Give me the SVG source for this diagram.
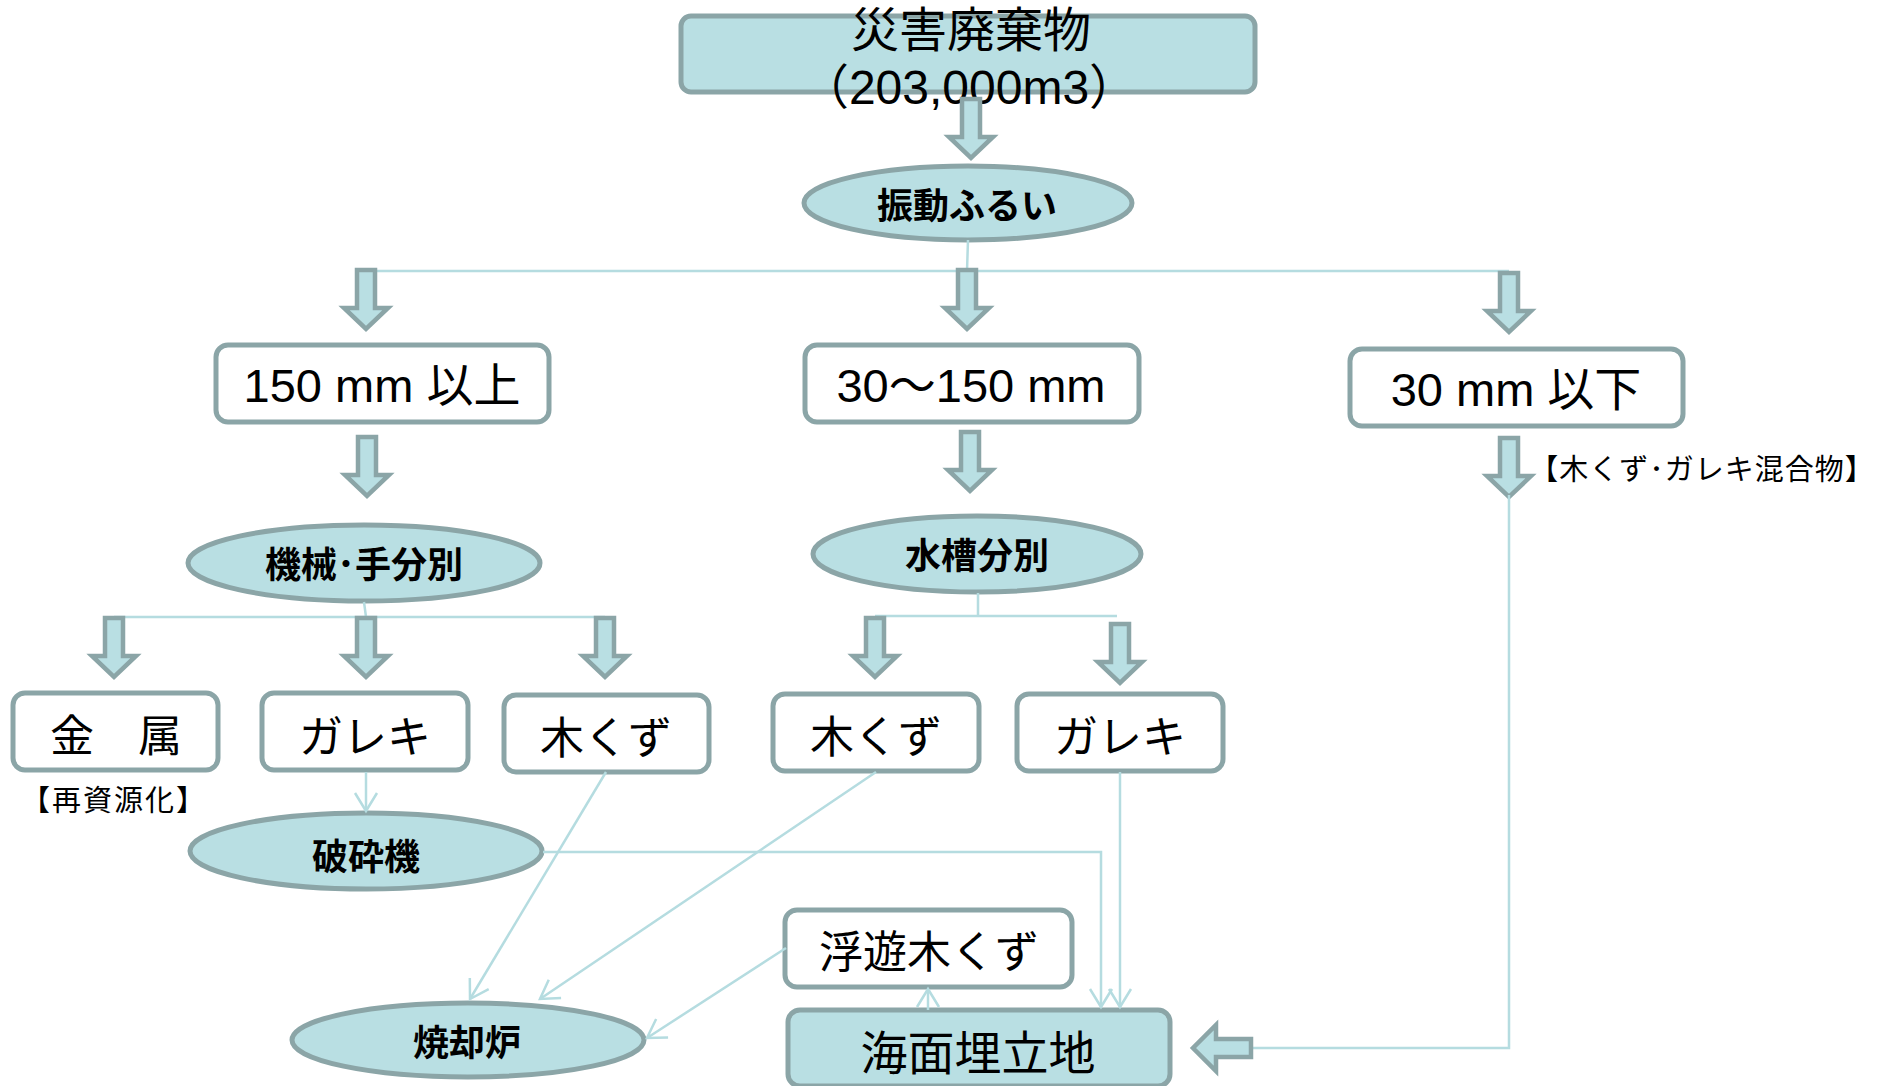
<svg xmlns="http://www.w3.org/2000/svg" xmlns:xlink="http://www.w3.org/1999/xlink" width="1880" height="1086" viewBox="0 0 1880 1086">
<style>
text{font-family:'Liberation Sans','Noto Sans CJK JP',sans-serif;fill:#000;text-anchor:middle;dominant-baseline:central}
.box{fill:#fff;stroke:#8ba5a7;stroke-width:5}
.tbox{fill:#b9dfe3;stroke:#8ba5a7;stroke-width:5}
.ell{fill:#b9dfe3;stroke:#8ba5a7;stroke-width:5}
.barr{fill:#b9dfe3;stroke:#8ba5a7;stroke-width:4.5;stroke-linejoin:miter}
.ln{fill:none;stroke:#b5dce0;stroke-width:2.5}
.top{font-size:48px}
.big{font-size:47px}
.mid{font-size:44px}
.lab{font-size:36px;font-weight:bold}
.note{font-size:29px;letter-spacing:2px}
.note2{font-size:29px;letter-spacing:1px}
</style>
<defs>
<path id="darr" class="barr" d="M-9,0 H9 V38 H22 L0,59 L-22,38 H-9 Z"/>
<marker id="oa" markerWidth="22" markerHeight="24" refX="18" refY="11" orient="auto" markerUnits="userSpaceOnUse" overflow="visible">
<path d="M0,0 L18,11 L0,22" fill="none" stroke="#b5dce0" stroke-width="2.5"/>
</marker>
</defs>

<g id="node-source">
<rect class="tbox" x="681" y="16" width="574" height="76" rx="10"/>
<text class="top" x="971" y="30">災害廃棄物</text>
<text class="top" x="969" y="87">（203,000m3）</text>
</g>
<g id="node-screen">
<ellipse class="ell" cx="968" cy="203" rx="164" ry="37"/>
<text class="lab" x="967" y="206">振動ふるい</text>
</g>
<g id="node-over150">
<rect class="box" x="216" y="345" width="333" height="77" rx="12"/>
<text class="big" x="382" y="385">150 mm 以上</text>
</g>
<g id="node-30to150">
<rect class="box" x="805" y="345" width="334" height="77" rx="12"/>
<text class="big" x="971" y="385">30～150 mm</text>
</g>
<g id="node-under30">
<rect class="box" x="1350" y="349" width="333" height="77" rx="12"/>
<text class="big" x="1516" y="389">30 mm 以下</text>
</g>
<g id="node-mixnote">
<text class="note2" x="1702" y="470">【木くず･ガレキ混合物】</text>
</g>
<g id="node-handsort">
<ellipse class="ell" cx="364" cy="563" rx="176" ry="38"/>
<text class="lab" x="364" y="565">機械･手分別</text>
</g>
<g id="node-watersort">
<ellipse class="ell" cx="977" cy="554" rx="164" ry="38"/>
<text class="lab" x="977" y="556">水槽分別</text>
</g>
<g id="node-metal">
<rect class="box" x="13" y="693" width="205" height="77" rx="12"/>
<text class="mid" x="116" y="736">金　属</text>
<text class="note" x="114" y="801">【再資源化】</text>
</g>
<g id="node-rubble1">
<rect class="box" x="262" y="693" width="206" height="77" rx="12"/>
<text class="mid" x="365" y="737">ガレキ</text>
</g>
<g id="node-wood1">
<rect class="box" x="504" y="695" width="205" height="77" rx="12"/>
<text class="mid" x="606" y="738">木くず</text>
</g>
<g id="node-wood2">
<rect class="box" x="773" y="694" width="206" height="77" rx="12"/>
<text class="mid" x="876" y="737">木くず</text>
</g>
<g id="node-rubble2">
<rect class="box" x="1017" y="694" width="206" height="77" rx="12"/>
<text class="mid" x="1120" y="737">ガレキ</text>
</g>
<g id="node-crusher">
<ellipse class="ell" cx="366" cy="851" rx="176" ry="38"/>
<text class="lab" x="366" y="857">破砕機</text>
</g>
<g id="node-floatwood">
<rect class="box" x="785" y="910" width="287" height="77" rx="12"/>
<text class="mid" x="929" y="952">浮遊木くず</text>
</g>
<g id="node-incinerator">
<ellipse class="ell" cx="468" cy="1040" rx="176" ry="37"/>
<text class="lab" x="467" y="1043">焼却炉</text>
</g>
<g id="node-landfill">
<rect class="tbox" x="788" y="1010" width="382" height="76" rx="12"/>
<text class="big" x="978" y="1053">海面埋立地</text>
</g>

<g id="connectors">
<path class="ln" d="M968,240 L967,271 M366,271 H1509"/>
<path class="ln" d="M364,602 L366,617 M114,617 H605"/>
<path class="ln" d="M978,593 V616 M875,616 H1117"/>
<use xlink:href="#darr" href="#darr" x="971" y="99"/>
<use xlink:href="#darr" href="#darr" x="366" y="270"/>
<use xlink:href="#darr" href="#darr" x="967" y="270"/>
<use xlink:href="#darr" href="#darr" x="1509" y="273"/>
<use xlink:href="#darr" href="#darr" x="367" y="437"/>
<use xlink:href="#darr" href="#darr" x="970" y="432"/>
<use xlink:href="#darr" href="#darr" x="1509" y="438"/>
<use xlink:href="#darr" href="#darr" x="114" y="618"/>
<use xlink:href="#darr" href="#darr" x="366" y="618"/>
<use xlink:href="#darr" href="#darr" x="605" y="618"/>
<use xlink:href="#darr" href="#darr" x="875" y="618"/>
<use xlink:href="#darr" href="#darr" x="1120" y="624"/>
<path class="ln" d="M1509,495 V1048 H1253"/>
<path class="barr" d="M1251,1039 V1057 H1216 V1071 L1193,1048 L1216,1025 V1039 Z"/>
<path class="ln" marker-end="url(#oa)" d="M366,772 V811"/>
<path class="ln" marker-end="url(#oa)" d="M543,852 H1101 V1007"/>
<path class="ln" marker-end="url(#oa)" d="M1120,772 V1007"/>
<path class="ln" marker-end="url(#oa)" d="M928,1010 V989"/>
<path class="ln" marker-end="url(#oa)" d="M606,772 L470,999"/>
<path class="ln" marker-end="url(#oa)" d="M876,772 L540,999"/>
<path class="ln" marker-end="url(#oa)" d="M786,948 L647,1038"/>
</g>
</svg>
